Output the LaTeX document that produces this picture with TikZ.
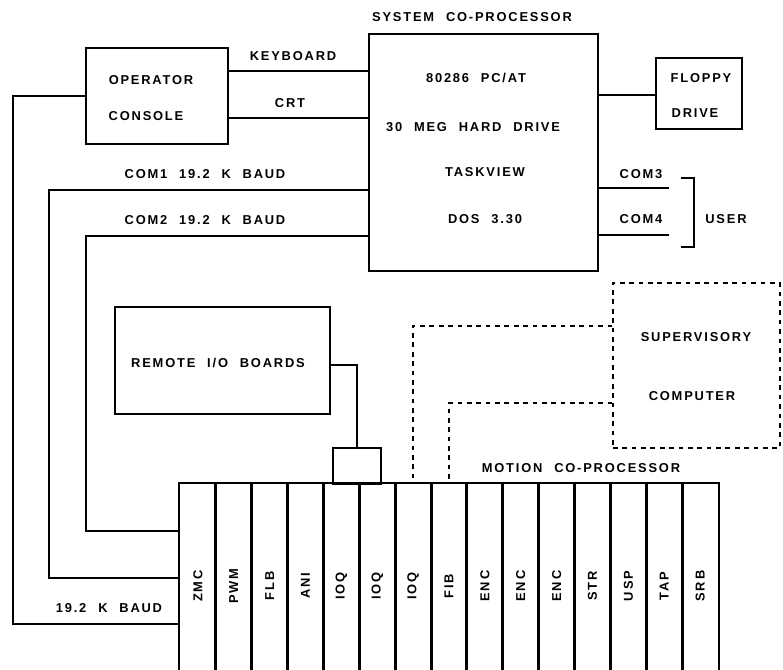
\documentclass[tikz,border=0pt]{standalone}
\usepackage{fontspec}
\newfontfamily\plotter{Liberation Sans}[LetterSpace=14, WordSpace=2.2]
\usetikzlibrary{positioning}

\begin{document}
\begin{tikzpicture}[x=0.03cm, y=-0.03cm, line width=1.3pt,
  box/.style={draw, inner sep=0pt},
  dbox/.style={box, dash pattern=on 4pt off 4pt},
  lbl/.style={font=\plotter\bfseries\fontsize{11}{12}\selectfont, inner sep=0pt},
  slot/.style={inner sep=0pt, minimum width=1.076cm, minimum height=5.55cm},
  slotlbl/.style={lbl, rotate=90},
]
  \useasboundingbox (0,0) rectangle (783,669);
  % boxes
  \node[box, minimum width=4.26cm, minimum height=2.88cm] (con) at (157,96) {};
  \node[box, minimum width=6.87cm, minimum height=7.11cm] (sys) at (483.5,152.5) {};
  \node[box, minimum width=2.58cm, minimum height=2.13cm] (flp) at (699,93.5) {};
  \node[box, minimum width=6.45cm, minimum height=3.21cm] (rio) at (222.5,360.5) {};
  \node[box, minimum width=1.44cm, minimum height=1.08cm] (io) at (357,466) {};
  \node[dbox, minimum width=5.01cm, minimum height=4.95cm] (sup) at (696.5,365.5) {};
  % texts
  \node[lbl] at (151,80) {OPERATOR};
  \node[lbl] at (146,116) {CONSOLE};
  \node[lbl] at (472,17) {SYSTEM CO-PROCESSOR};
  \node[lbl] at (476,78) {80286 PC/AT};
  \node[lbl] at (473,127) {30 MEG HARD DRIVE};
  \node[lbl] at (485,172) {TASKVIEW};
  \node[lbl] at (485,219) {DOS 3.30};
  \node[lbl] at (701,78) {FLOPPY};
  \node[lbl] at (695,113) {DRIVE};
  \node[lbl] at (293,56) {KEYBOARD};
  \node[lbl] at (290,103) {CRT};
  \node[lbl] at (205,174) {COM1 19.2 K BAUD};
  \node[lbl] at (205,220) {COM2 19.2 K BAUD};
  \node[lbl] at (641,174) {COM3};
  \node[lbl] at (641,219) {COM4};
  \node[lbl] at (726,219) {USER};
  \node[lbl] at (218,363) {REMOTE I/O BOARDS};
  \node[lbl] at (696,337) {SUPERVISORY};
  \node[lbl] at (692,396) {COMPUTER};
  \node[lbl] at (581,468) {MOTION CO-PROCESSOR};
  \node[lbl] at (109,608) {19.2 K BAUD};
  % motion co-processor rack
  \foreach \lab [count=\i] in {ZMC,PWM,FLB,ANI,IOQ,IOQ,IOQ,FIB,ENC,ENC,ENC,STR,USP,TAP,SRB} {
    \node[slot] (s\i) at ({180+35.87*(\i-0.5)},576.5) {};
    \node[slotlbl] at (s\i |- 0,586) {\lab};
    \draw (s\i.south west) -- (s\i.north west) -- (s\i.north east) -- (s\i.south east);
  }
  % links
  \draw (con.east |- 0,71) -- (sys.west |- 0,71);
  \draw (con.east |- 0,118) -- (sys.west |- 0,118);
  \draw (sys.east |- 0,95) -- (flp.west |- 0,95);
  \draw (sys.east |- 0,188) -- (669,188);
  \draw (sys.east |- 0,235) -- (669,235);
  \draw (681,178) -- (694,178) -- (694,247) -- (681,247);
  \draw (con.west) -- (13,96) -- (13,624) -- (s1.west |- 0,624);
  \draw (sys.west |- 0,190) -- (49,190) -- (49,578) -- (s1.west |- 0,578);
  \draw (sys.west |- 0,236) -- (86,236) -- (86,531) -- (s1.west |- 0,531);
  \draw (rio.east |- 0,365) -| (io.north);
  \draw[dash pattern=on 4pt off 4pt] (sup.west |- 0,326) -| (s7.north);
  \draw[dash pattern=on 4pt off 4pt] (sup.west |- 0,403) -| (s8.north);
\end{tikzpicture}
\end{document}
